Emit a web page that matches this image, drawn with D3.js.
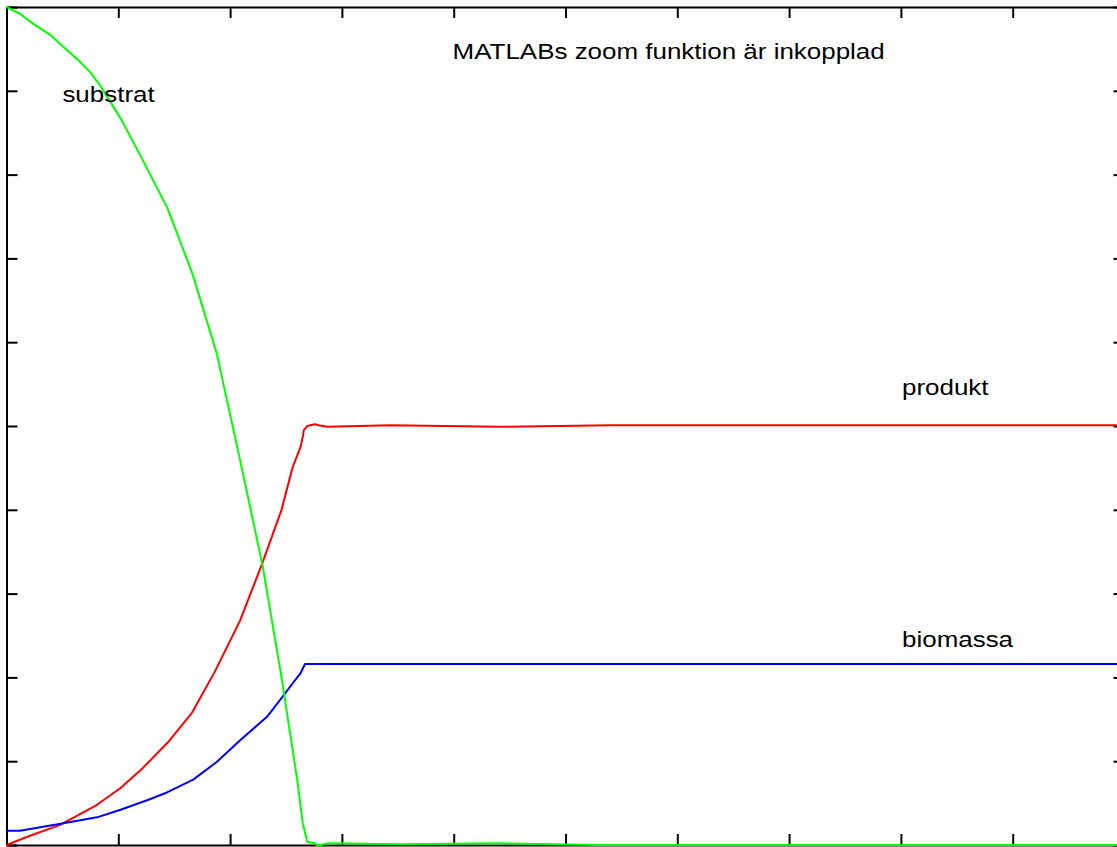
<!DOCTYPE html>
<html>
<head>
<meta charset="utf-8">
<script src="https://cdn.jsdelivr.net/npm/d3@7"></script>
<style>
  html, body { margin: 0; padding: 0; background: #fff; overflow: hidden; }
  text { font-family: Arial, "Liberation Sans", sans-serif; fill: #000; }
</style>
</head>
<body>
<svg id="chart" width="1117" height="847"></svg>
<script>
// substrate, product and biomass curves (axis units 0..10)
const substratX = [0, 0.12, 0.25, 0.39, 0.52, 0.64, 0.75, 0.84, 1.03, 1.22, 1.44, 1.66, 1.88, 2.09, 2.29, 2.46, 2.60, 2.65, 2.69, 2.76, 2.78, 2.88, 3.52, 4.41, 5.31, 10];
const substratY = [10, 9.92, 9.79, 9.67, 9.51, 9.37, 9.22, 9.06, 8.65, 8.17, 7.60, 6.83, 5.87, 4.59, 3.34, 2.00, 0.78, 0.26, 0.04, 0.02, -0.01, 0.02, 0.01, 0.02, 0, 0];

const produktX = [0, 0.21, 0.48, 0.81, 1.02, 1.22, 1.44, 1.66, 1.86, 2.09, 2.29, 2.46, 2.56, 2.63, 2.65, 2.66, 2.69, 2.76, 2.79, 2.87, 3.43, 4.41, 5.40, 10];
const produktY = [0, 0.11, 0.24, 0.48, 0.68, 0.92, 1.22, 1.58, 2.06, 2.68, 3.37, 4.00, 4.51, 4.75, 4.87, 4.95, 5.00, 5.02, 5.01, 4.99, 5.01, 4.99, 5.01, 5.01];

const biomassaX = [0, 0.12, 0.51, 0.81, 1.02, 1.27, 1.44, 1.67, 1.88, 2.09, 2.33, 2.47, 2.56, 2.63, 2.67, 10];
const biomassaY = [0.17, 0.17, 0.26, 0.33, 0.42, 0.54, 0.63, 0.78, 0.99, 1.25, 1.53, 1.77, 1.93, 2.05, 2.16, 2.16];

const xTicks = d3.range(0, 11);
const yTicks = d3.range(0, 11);

const labels = [
  { text: "MATLABs zoom funktion är inkopplad", x: 3.99, y: 9.38 },
  { text: "substrat", x: 0.50, y: 8.87 },
  { text: "produkt", x: 8.01, y: 5.37 },
  { text: "biomassa", x: 8.01, y: 2.36 }
];

const svg = d3.select("#chart");
const margin = { left: 6.5, top: 7, right: -7.5, bottom: 2 };
const width = 1117 - margin.left - margin.right,
  height = 847 - margin.top - margin.bottom;

const g = svg.append("g")
  .attr("transform", `translate(${margin.left},${margin.top})`);

const x = d3.scaleLinear().domain([0, 10]).range([0, width]);
const y = d3.scaleLinear().domain([0, 10]).range([height, 0]);

// frame + inward ticks, no labels
const tickLen = 11;
function styleAxis(sel) {
  sel.selectAll("text").remove();
  sel.select(".domain").attr("stroke", "#000").attr("stroke-width", 2);
  sel.selectAll(".tick line").attr("stroke", "#000").attr("stroke-width", 2);
}
g.append("g").attr("transform", `translate(0,${height})`)
  .call(d3.axisBottom(x).tickValues(xTicks).tickSizeInner(-tickLen).tickSizeOuter(0))
  .call(styleAxis);
g.append("g")
  .call(d3.axisTop(x).tickValues(xTicks).tickSizeInner(-tickLen).tickSizeOuter(0))
  .call(styleAxis);
g.append("g")
  .call(d3.axisLeft(y).tickValues(yTicks).tickSizeInner(-tickLen).tickSizeOuter(0))
  .call(styleAxis);
g.append("g").attr("transform", `translate(${width},0)`)
  .call(d3.axisRight(y).tickValues(yTicks).tickSizeInner(-tickLen).tickSizeOuter(0))
  .call(styleAxis);

const line = d3.line()
  .x((d) => x(d[0]))
  .y((d) => y(d[1]));

const series = [
  { xs: produktX, ys: produktY, color: "#ff0000" },
  { xs: biomassaX, ys: biomassaY, color: "#0000ff" },
  { xs: substratX, ys: substratY, color: "#00ff00" }
];

series.forEach((s) => {
  g.append("path")
    .datum(d3.zip(s.xs, s.ys))
    .attr("fill", "none")
    .attr("stroke", s.color)
    .attr("stroke-width", 2)
    .attr("stroke-linejoin", "round")
    .attr("d", line);
});

// old MATLAB text renders wider than Liberation Sans, so stretch a bit
g.selectAll(".label")
  .data(labels)
  .enter()
  .append("text")
  .attr("class", "label")
  .attr("transform", (d) => `translate(${x(d.x)},${y(d.y)}) scale(1.18,1)`)
  .style("font-size", "22px")
  .text((d) => d.text);
</script>
</body>
</html>
